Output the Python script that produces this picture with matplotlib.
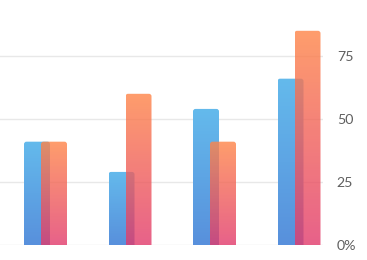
import numpy as np
import matplotlib
matplotlib.use("Agg")
import matplotlib.pyplot as plt
from matplotlib.patches import FancyBboxPatch
from matplotlib.colors import LinearSegmentedColormap

categories = ["A", "B", "C", "D"]
series_blue = [41, 29, 54, 66]
series_orange = [41, 60, 41, 85]
tick_values = [0, 25, 50, 75]
tick_labels = ["0%", "25", "50", "75"]

W, H = 367, 260
fig = plt.figure(figsize=(W / 100, H / 100), dpi=100)
ax = fig.add_axes([0, 15 / H, 323 / W, 245 / H])

ymax = 245 / 2.52
ax.set_xlim(-45.5 / 84.5, 3 + 24 / 84.5)
ax.set_ylim(0, ymax)

blue_cmap = LinearSegmentedColormap.from_list("b", ["#5890dc", "#64baec"])
orange_cmap = LinearSegmentedColormap.from_list("o", ["#e23a6c", "#ff8547"])

bw = 26 / 84.5
off = 8.5 / 84.5
grad = np.linspace(0, 1, 256).reshape(-1, 1)


def draw_bar(xc, val, cmap, alpha, z):
    x0 = xc - bw / 2
    rx = 0.03
    ry = rx * 84.5 / 2.52
    patch = FancyBboxPatch((x0, -10), bw, val + 10,
                           boxstyle=f"round,pad=0,rounding_size={rx}",
                           mutation_aspect=ry / rx,
                           facecolor="none", edgecolor="none", zorder=z)
    ax.add_patch(patch)
    im = ax.imshow(grad, cmap=cmap, origin="lower", aspect="auto",
                   extent=(x0, x0 + bw, 0, val), alpha=alpha, zorder=z,
                   interpolation="bilinear")
    im.set_clip_path(patch)


x = np.arange(len(categories))
for i in range(len(categories)):
    draw_bar(x[i] - off, series_blue[i], blue_cmap, 1.0, 2)
    draw_bar(x[i] + off, series_orange[i], orange_cmap, 0.8, 3)

ax.set_xlim(-45.5 / 84.5, 3 + 24 / 84.5)
ax.set_ylim(0, ymax)

for v in tick_values:
    ax.axhline(v, color="#e8e8e8", lw=1, zorder=1)

ax.yaxis.tick_right()
ax.set_yticks(tick_values)
ax.set_yticklabels(tick_labels, fontfamily="Lato", fontsize=10.2, color="#5f5f5f")
ax.tick_params(axis="y", length=0, pad=10)
for lbl in ax.get_yticklabels():
    lbl.set_horizontalalignment("left")
ax.set_xticks([])
for s in ax.spines.values():
    s.set_visible(False)

fig.savefig("out.png", dpi=100)
